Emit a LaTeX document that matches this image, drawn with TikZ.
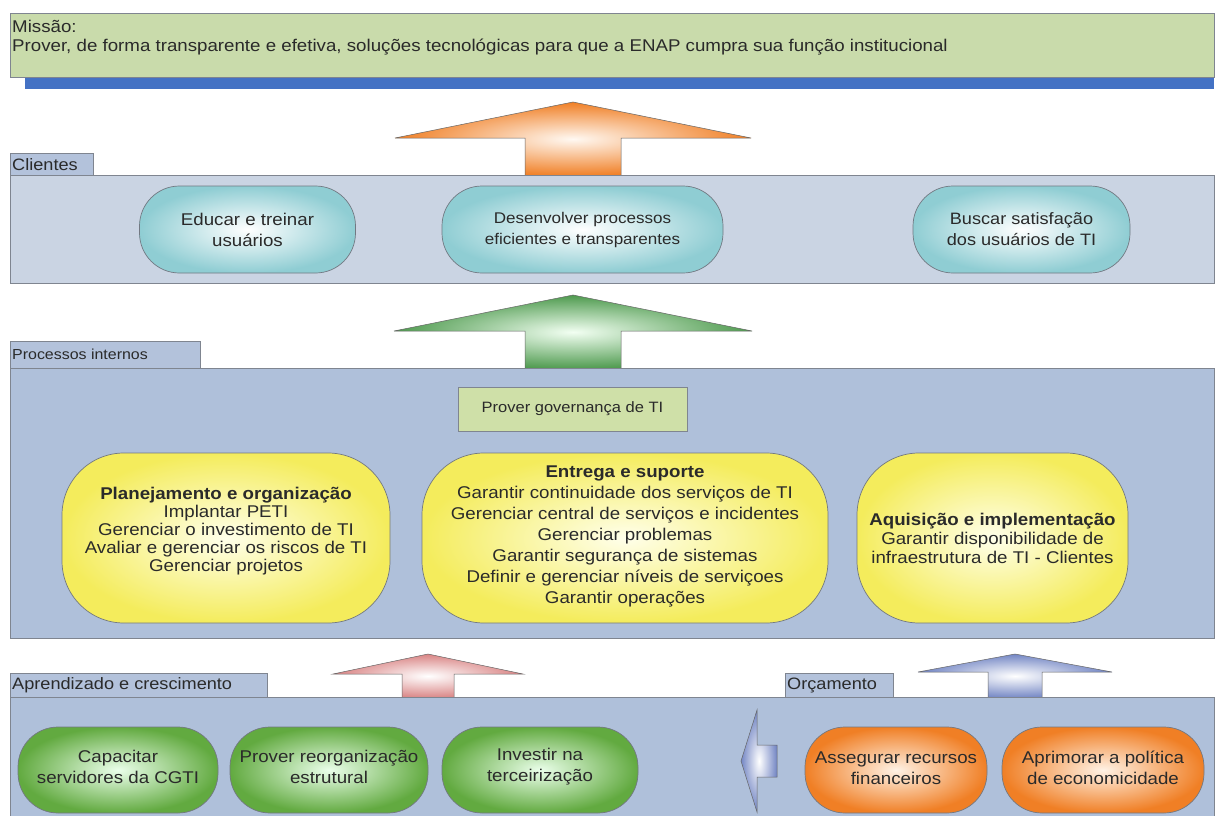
\documentclass[tikz,border=0pt]{standalone}
\usepackage{fontspec}
\setmainfont{Liberation Sans}[FakeStretch=1.1]
\usetikzlibrary{shapes.misc}
\definecolor{missfill}{HTML}{C9DBAB}
\definecolor{barblue}{HTML}{4472C4}
\definecolor{cliband}{HTML}{CAD4E3}
\definecolor{procband}{HTML}{AFC0DA}
\definecolor{tabfill}{HTML}{B3C2DB}
\definecolor{edge}{HTML}{7F8590}
\definecolor{txt}{HTML}{2A2A2A}
\definecolor{cyanout}{HTML}{8FCDD3}
\definecolor{yelout}{HTML}{F4EC5C}
\definecolor{greenout}{HTML}{62AA40}
\definecolor{orangeout}{HTML}{F07F25}
\definecolor{govfill}{HTML}{CFE0A8}
\definecolor{arrgreen}{HTML}{4E9A4E}
\definecolor{arrred}{HTML}{D98484}
\definecolor{arrblue}{HTML}{7386C4}
\begin{document}
\begin{tikzpicture}[x=1pt,y=-1pt,
  band/.style={draw=edge, line width=0.8pt, anchor=north west, inner sep=0pt},
  tab/.style={draw=edge, line width=0.8pt, fill=tabfill, anchor=north west, inner sep=0pt},
  tablabel/.style={anchor=west, inner sep=0pt, text=txt, font=\fontsize{16.5}{18}\selectfont},
  stad/.style={draw=edge!90!black, line width=0.7pt},
  lbl/.style={text=txt, align=center, inner sep=0pt, font=\fontsize{17}{21}\selectfont},
  cyanst/.style={stad, rounded corners=40pt, inner color=white, outer color=cyanout},
  yelst/.style={stad, rounded corners=62pt, inner color=yellow!8!white, outer color=yelout},
  grnst/.style={stad, rounded corners=40pt, inner color=green!8!white, outer color=greenout},
  orgst/.style={stad, rounded corners=40pt, inner color=orange!10!white, outer color=orangeout},
  blockarrow/.style={draw=gray!80!black, line width=0.5pt}
]
\useasboundingbox (0,0) rectangle (1215,816);
\clip (0,0) rectangle (1215,816);
\fill[white] (0,0) rectangle (1215,816);

% ---------- mission ----------
\fill[barblue] (25,70) rectangle (1214,89);
\node[band, fill=missfill, minimum width=1204pt, minimum height=64pt] (miss) at (10,13) {};
\node[anchor=north west, text=txt, align=left, inner sep=0pt,
      font=\fontsize{17}{19}\selectfont] (misstxt) at (12,20)
  {Missão:\\Prover, de forma transparente e efetiva, soluções tecnológicas para que a ENAP cumpra sua função institucional};

% ---------- arrows ----------
\newcommand{\bigup}[8]{%
  \path[blockarrow, inner color=#8, outer color=#7]
    (#1,#2) -- (#1+#5,#3) -- (#1+#6,#3) -- (#1+#6,#4) -- (#1-#6,#4) -- (#1-#6,#3) -- (#1-#5,#3) -- cycle;}
\bigup{573}{102}{138}{176}{178}{48}{orangeout}{orange!5!white}
\bigup{573}{295}{331}{369}{179}{48}{arrgreen}{green!5!white}
\bigup{428}{654}{674}{698}{95}{26}{arrred}{white}
\bigup{1015}{654}{672}{698}{97}{27}{arrblue}{white}

% ---------- Clientes ----------
\node[band, fill=cliband, minimum width=1204pt, minimum height=108pt] (cliband) at (10,175) {};
\node[tab, minimum width=83pt, minimum height=22pt] (clitab) at (10,153) {};
\node[tablabel] (clilab) at (12,164.5) {Clientes};
\node[cyanst, minimum width=216pt, minimum height=87pt] (educ) at (247.5,229.5) {};
\node[lbl] (eductxt) at (educ.center) {Educar e treinar\\usuários};
\node[cyanst, minimum width=281pt, minimum height=87pt] (desenv) at (582.5,229.5) {};
\node[lbl, font=\fontsize{15.5}{21}\selectfont] (desenvtxt) at (desenv.center) {Desenvolver processos\\eficientes e transparentes};
\node[cyanst, minimum width=217pt, minimum height=87pt] (busc) at (1021.5,229.5) {};
\node[lbl, font=\fontsize{16.5}{21}\selectfont] (busctxt) at (busc.center) {Buscar satisfação\\dos usuários de TI};

% ---------- Processos internos ----------
\node[band, fill=procband, minimum width=1204pt, minimum height=270pt] (procband) at (10,368) {};
\node[tab, minimum width=190pt, minimum height=27pt] (proctab) at (10,341) {};
\node[tablabel, font=\fontsize{14.5}{18}\selectfont] (proclab) at (12,354) {Processos internos};
\node[draw=edge, line width=0.8pt, fill=govfill, minimum width=229pt, minimum height=44pt, text=txt,
      font=\fontsize{15}{18}\selectfont] (gov) at (572.5,409) {Prover governança de TI};
\node[yelst, minimum width=328pt, minimum height=170pt] (plan) at (226,538) {};
\node[lbl, font=\fontsize{17}{18}\selectfont] (plantxt) at (226,531)
  {\textbf{Planejamento e organização}\\Implantar PETI\\Gerenciar o investimento de TI\\Avaliar e gerenciar os riscos de TI\\Gerenciar projetos};
\node[yelst, minimum width=406pt, minimum height=170pt] (entr) at (625,538) {};
\node[lbl, font=\fontsize{17}{21}\selectfont] (entrtxt) at (625,536)
  {\textbf{Entrega e suporte}\\Garantir continuidade dos serviços de TI\\Gerenciar central de serviços e incidentes\\Gerenciar problemas\\Garantir segurança de sistemas\\Definir e gerenciar níveis de serviçoes\\Garantir operações};
\node[yelst, minimum width=271pt, minimum height=170pt] (aqui) at (992.5,538) {};
\node[lbl, font=\fontsize{17}{19}\selectfont] (aquitxt) at (992.5,538.5)
  {\textbf{Aquisição e implementação}\\Garantir disponibilidade de\\infraestrutura de TI - Clientes};

% ---------- Aprendizado / Orcamento ----------
\node[band, fill=procband, minimum width=1204pt, minimum height=140pt] (aprband) at (10,697) {};
\node[tab, minimum width=257pt, minimum height=24pt] (aprtab) at (10,673) {};
\node[tablabel] (aprlab) at (12,685) {Aprendizado e crescimento};
\node[tab, minimum width=108pt, minimum height=24pt] (orctab) at (785,673) {};
\node[tablabel] (orclab) at (787,685) {Orçamento};

\node[grnst, minimum width=200pt, minimum height=86pt] (capac) at (118,770) {};
\node[lbl] (capactxt) at (118,767) {Capacitar\\servidores da CGTI};
\node[grnst, minimum width=198pt, minimum height=86pt] (reorg) at (329,770) {};
\node[lbl] (reorgtxt) at (329,767) {Prover reorganização\\estrutural};
\node[grnst, minimum width=196pt, minimum height=86pt] (terc) at (540,770) {};
\node[lbl] (terctxt) at (540,767) {Investir na\\terceirização};
\node[orgst, minimum width=182pt, minimum height=86pt] (asseg) at (896,770) {};
\node[lbl] (assegtxt) at (896,768) {Assegurar recursos\\financeiros};
\node[orgst, minimum width=202pt, minimum height=86pt] (aprim) at (1103,770) {};
\node[lbl] (aprimtxt) at (1103,768) {Aprimorar a política\\de economicidade};

% left-pointing block arrow
\path[blockarrow, inner color=white, outer color=arrblue]
  (741,761) -- (757,710) -- (757,745) -- (777,745) -- (777,777) -- (757,777) -- (757,812) -- cycle;
\end{tikzpicture}
\end{document}
